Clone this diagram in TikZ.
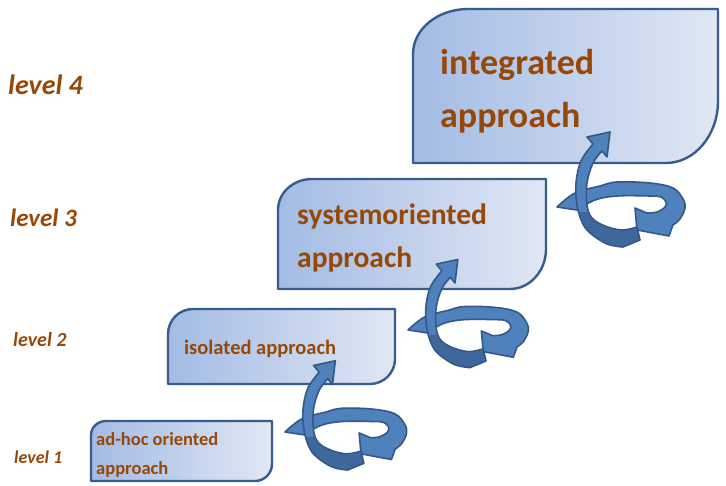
\documentclass[tikz,border=0pt]{standalone}
\usepackage{fontspec}
\setmainfont{Carlito}
\definecolor{txtbrown}{RGB}{152,72,6}
\definecolor{boxline}{RGB}{56,93,138}
\definecolor{boxleft}{RGB}{163,187,228}
\definecolor{boxright}{RGB}{224,231,244}
\definecolor{arrowfill}{RGB}{79,129,189}
\definecolor{arrowdark}{RGB}{62,103,156}
\definecolor{arrowline}{RGB}{52,88,136}

% Box with rounded top-left and bottom-right corners:
% #1 left, #2 top, #3 right, #4 bottom, #5/#6 top-left radii, #7/#8 bottom-right radii
\newcommand\leafbox[8]{%
  \path[stagebox] (#1,#4) -- (#1,{#2+#6})
    .. controls (#1,{#2+0.448*#6}) and ({#1+0.448*#5},#2) .. ({#1+#5},#2)
    -- (#3,#2) -- (#3,{#4-#8})
    .. controls (#3,{#4-0.448*#8}) and ({#3-0.448*#7},#4) .. ({#3-#7},#4)
    -- cycle;}

% outline of the rising S-shaped arrow of a swirl
\newcommand\sarrowpath{%
  plot[smooth,tension=0.6] coordinates {(45,-56) (36,-44) (30,-24) (30,-2) (35,11) (48,19) (65,23) (80,20)}
  -- (83,33)
  -- plot[smooth,tension=0.6] coordinates {(66,40) (50,37) (33,26) (25,15) (20,-2) (19,-24) (24,-46) (36,-63)}
  -- (30,-70) -- (53,-75) -- (50,-50) -- cycle}

\tikzset{
  stagebox/.style={draw=boxline, line width=2.4pt, line join=round,
    left color=boxleft, right color=boxright},
  leveltext/.style={text=txtbrown, inner sep=0pt, anchor=base west, font=\bfseries\itshape},
  boxtext/.style={text=txtbrown, inner sep=0pt, anchor=base west},
  swirlline/.style={draw=arrowline, line width=1.6pt, line join=round},
  swirl/.pic={
    % looping band with its head turned back to the left
    \path[swirlline, fill=arrowfill]
      plot[smooth,tension=0.6] coordinates {(0,0) (18,-14) (43,-21) (60,-25) (93,-24) (116,-19) (126,-8) (128,1) (123,12) (116,18)}
      -- (112,29) -- (80,23) -- (78,1)
      -- plot[smooth,tension=0.6] coordinates {(90,6) (100,5) (108,0) (109,-5) (104,-10) (93,-11) (60,-11) (38,-7) (20,3)}
      -- cycle;
    % rising arrow, darker where it runs underneath
    \path[fill=arrowfill] \sarrowpath;
    \begin{scope}
      \clip (10,6) -- (95,2) -- (95,50) -- (10,50) -- cycle;
      \path[fill=arrowdark] \sarrowpath;
    \end{scope}
    \path[swirlline] \sarrowpath;
  }
}

\begin{document}
\begin{tikzpicture}[x=1pt,y=-1pt]
  \path[fill=white, use as bounding box] (0,0) rectangle (726,486);

  % stage boxes
  \leafbox{413}{9}{718}{163}{55}{45}{52}{62}
  \leafbox{278}{179}{546}{289}{34}{31}{36}{40}
  \leafbox{168}{309}{395}{384}{25}{25}{25}{25}
  \leafbox{91}{421}{272}{481}{15}{14}{17}{17}

  % box texts
  \node[boxtext, font=\bfseries\fontsize{36}{44}\selectfont] (t4a) at (440,75) {integrated};
  \node[boxtext, font=\bfseries\fontsize{36}{44}\selectfont] (t4b) at (440,128) {approach};
  \node[boxtext, font=\bfseries\fontsize{29.5}{36}\selectfont] (t3a) at (297,225) {systemoriented};
  \node[boxtext, font=\bfseries\fontsize{29.5}{36}\selectfont] (t3b) at (297,268) {approach};
  \node[boxtext, font=\bfseries\fontsize{20.5}{25}\selectfont] (t2) at (184,355) {isolated approach};
  \node[boxtext, font=\bfseries\fontsize{18.5}{23}\selectfont] (t1a) at (96,446) {ad-hoc oriented};
  \node[boxtext, font=\bfseries\fontsize{18.5}{23}\selectfont] (t1b) at (96,474) {approach};

  % level labels
  \node[leveltext, font=\bfseries\itshape\fontsize{28}{34}\selectfont] (l4) at (8,95) {level 4};
  \node[leveltext, font=\bfseries\itshape\fontsize{25}{30}\selectfont] (l3) at (10,227) {level 3};
  \node[leveltext, font=\bfseries\itshape\fontsize{20}{24}\selectfont] (l2) at (13,347) {level 2};
  \node[leveltext, font=\bfseries\itshape\fontsize{18}{22}\selectfont] (l1) at (14,463) {level 1};

  % swirls leading from one level to the next
  \coordinate (s1) at (285,432);
  \coordinate (s2) at (408,330);
  \coordinate (s3) at (557,207);
  \pic[scale=0.95] at (s1) {swirl};
  \pic[scale=0.94] at (s2) {swirl};
  \pic at (s3) {swirl};
\end{tikzpicture}
\end{document}
